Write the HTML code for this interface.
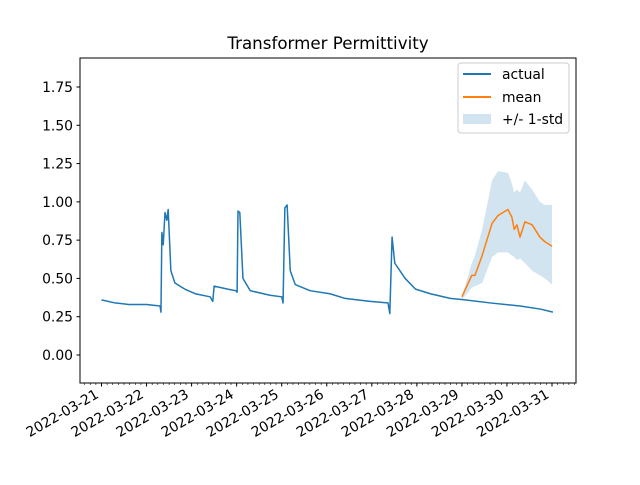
<!DOCTYPE html>
<html><head><meta charset="utf-8"><style>
body{margin:0;background:#fff}
svg text{font-family:"DejaVu Sans","Liberation Sans",sans-serif;fill:#000}
</style></head><body>
<svg id="chart" width="640" height="480" xmlns="http://www.w3.org/2000/svg">
<rect width="640" height="480" fill="#fff"/>
<text x="328" y="49" font-size="16.7" text-anchor="middle">Transformer Permittivity</text>
<g id="plot"></g>
<rect x="80" y="58" width="496" height="325" fill="none" stroke="#000" stroke-width="1"/>
<g id="axes"></g>
<g>
<rect x="458" y="63" width="111" height="70" rx="3" fill="#fff" fill-opacity="0.8" stroke="#ccc"/>
<line x1="463" y1="74" x2="491" y2="74" stroke="#1f77b4" stroke-width="2"/>
<text x="502" y="79" font-size="13.9">actual</text>
<line x1="463" y1="97" x2="491" y2="97" stroke="#ff7f0e" stroke-width="2"/>
<text x="502" y="102" font-size="13.9">mean</text>
<rect x="463" y="114" width="28" height="10" fill="#1f77b4" fill-opacity="0.2"/>
<text x="502" y="124" font-size="13.9">+/- 1-std</text>
</g>
</svg>
<script>
const xTickLabels=["2022-03-21","2022-03-22","2022-03-23","2022-03-24","2022-03-25","2022-03-26","2022-03-27","2022-03-28","2022-03-29","2022-03-30","2022-03-31"];
const yTicks=[0,0.25,0.5,0.75,1.0,1.25,1.5,1.75];
const actualDays=[21.0,21.3,21.6,22.0,22.3,22.32,22.34,22.37,22.41,22.45,22.48,22.54,22.63,22.85,23.08,23.41,23.47,23.5,23.8,23.98,24.01,24.03,24.07,24.14,24.3,24.74,25.0,25.03,25.07,25.12,25.19,25.3,25.63,26.07,26.4,26.96,27.36,27.4,27.45,27.51,27.74,27.97,28.3,28.74,29.07,29.63,30.29,30.74,31.02];
const actualVals=[0.36,0.34,0.33,0.33,0.32,0.28,0.80,0.72,0.93,0.88,0.95,0.55,0.47,0.43,0.40,0.38,0.35,0.45,0.43,0.42,0.41,0.94,0.93,0.50,0.42,0.39,0.38,0.34,0.96,0.98,0.55,0.46,0.42,0.40,0.37,0.35,0.34,0.27,0.77,0.60,0.50,0.43,0.40,0.37,0.36,0.34,0.32,0.30,0.28];
const meanDays=[29.0,29.22,29.29,29.45,29.67,29.8,30.02,30.11,30.16,30.22,30.29,30.4,30.56,30.73,30.84,31.0];
const meanVals=[0.38,0.52,0.52,0.65,0.86,0.91,0.95,0.90,0.82,0.85,0.77,0.87,0.85,0.77,0.74,0.71];
const upperVals=[0.38,0.60,0.65,0.82,1.14,1.20,1.19,1.12,1.06,1.08,1.06,1.14,1.08,1.00,0.98,0.98];
const lowerVals=[0.36,0.44,0.45,0.47,0.64,0.67,0.67,0.65,0.64,0.62,0.63,0.60,0.55,0.52,0.50,0.46];
const NS="http://www.w3.org/2000/svg";
const X=d=>101.5+(d-21)*45.05, Y=v=>355-v*153.14;
const plot=document.getElementById('plot'), axes=document.getElementById('axes');
function mk(t,a,p){const e=document.createElementNS(NS,t);for(const k in a)e.setAttribute(k,a[k]);p.appendChild(e);return e;}
let d="M"+X(meanDays[0])+","+Y(upperVals[0]);
for(let i=1;i<meanDays.length;i++)d+="L"+X(meanDays[i])+","+Y(upperVals[i]);
for(let i=meanDays.length-1;i>=0;i--)d+="L"+X(meanDays[i])+","+Y(lowerVals[i]);
const band=mk('path',{d:d+"Z",fill:"#1f77b4","fill-opacity":0.2},plot);


const la=mk('polyline',{points:actualDays.map((t,i)=>X(t)+","+Y(actualVals[i])).join(" "),fill:"none",stroke:"#1f77b4","stroke-width":1.5,"stroke-linejoin":"round"},plot);


const lm=mk('polyline',{points:meanDays.map((t,i)=>X(t)+","+Y(meanVals[i])).join(" "),fill:"none",stroke:"#ff7f0e","stroke-width":1.5,"stroke-linejoin":"round"},plot);


yTicks.forEach(v=>{
 const y=Y(v);
 mk('line',{x1:76.5,x2:80,y1:y,y2:y,stroke:"#000"},axes);
 const t=mk('text',{x:73,y:y+5,"font-size":13.9,"text-anchor":"end"},axes);
 t.textContent=v.toFixed(2);
 
 
});
for(let k=-3;k<=86;k++){const x=101.5+k*45.05/8;if(x<80||x>576)continue;mk('line',{x1:x,x2:x,y1:383,y2:385,stroke:"#000","stroke-width":0.6},axes);}
xTickLabels.forEach((s,i)=>{
 const x=X(21+i);
 mk('line',{x1:x,x2:x,y1:383,y2:386.5,stroke:"#000"},axes);
 const t=mk('text',{x:0,y:0,"font-size":13.9,"text-anchor":"end",transform:`translate(${x-2},${397}) rotate(-30)`},axes);
 t.textContent=s;
 
 
});
</script>
</body></html>
